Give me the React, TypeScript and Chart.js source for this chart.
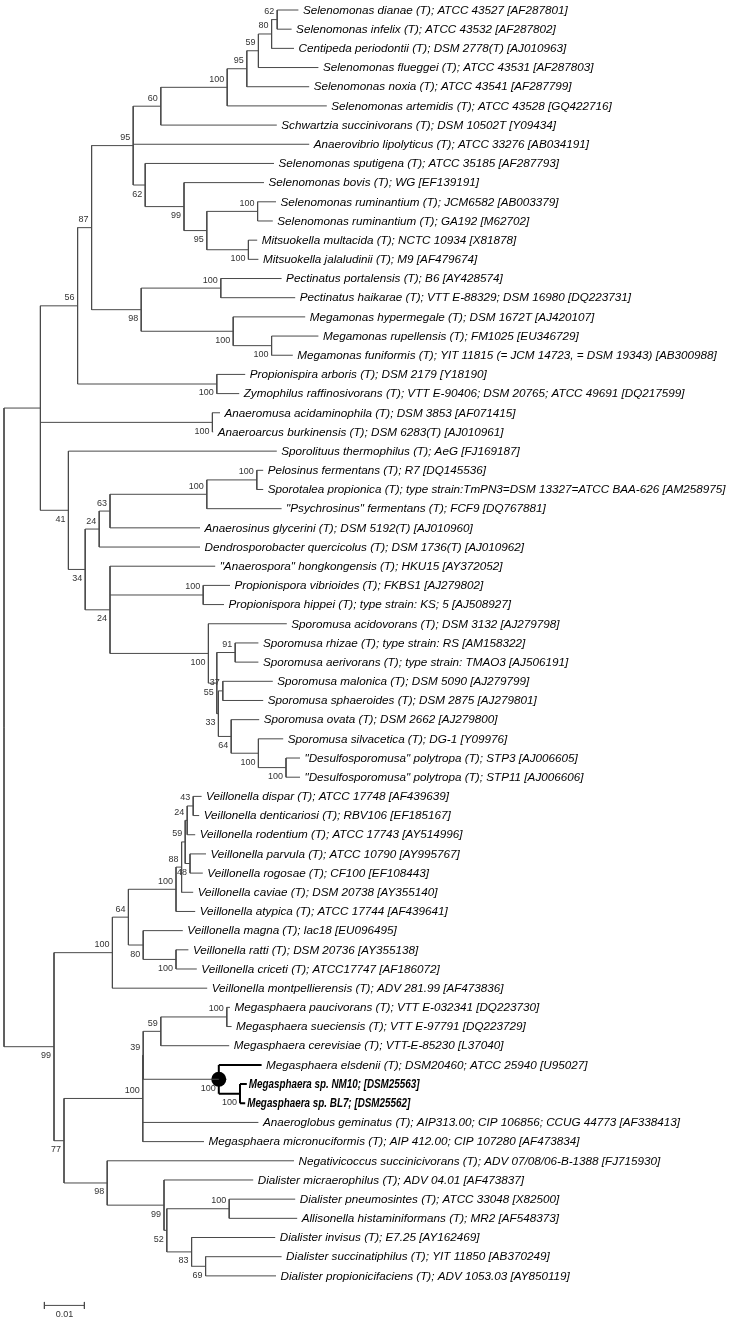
import React, { useEffect, useRef } from "react";
import { Chart, registerables } from "chart.js";
Chart.register(...registerables);

// ---------- DATA ----------
const leafNames: string[] = [
  "Selenomonas dianae (T); ATCC 43527 [AF287801]",
  "Selenomonas infelix (T); ATCC 43532 [AF287802]",
  "Centipeda periodontii (T); DSM 2778(T) [AJ010963]",
  "Selenomonas flueggei (T); ATCC 43531 [AF287803]",
  "Selenomonas noxia (T); ATCC 43541 [AF287799]",
  "Selenomonas artemidis (T); ATCC 43528 [GQ422716]",
  "Schwartzia succinivorans (T); DSM 10502T [Y09434]",
  "Anaerovibrio lipolyticus (T); ATCC 33276 [AB034191]",
  "Selenomonas sputigena (T); ATCC 35185 [AF287793]",
  "Selenomonas bovis (T); WG [EF139191]",
  "Selenomonas ruminantium (T); JCM6582 [AB003379]",
  "Selenomonas ruminantium (T); GA192 [M62702]",
  "Mitsuokella multacida (T); NCTC 10934 [X81878]",
  "Mitsuokella jalaludinii (T); M9 [AF479674]",
  "Pectinatus portalensis (T); B6 [AY428574]",
  "Pectinatus haikarae (T); VTT E-88329; DSM 16980 [DQ223731]",
  "Megamonas hypermegale (T); DSM 1672T [AJ420107]",
  "Megamonas rupellensis (T); FM1025 [EU346729]",
  "Megamonas funiformis (T); YIT 11815 (= JCM 14723, = DSM 19343) [AB300988]",
  "Propionispira arboris (T); DSM 2179 [Y18190]",
  "Zymophilus raffinosivorans (T); VTT E-90406; DSM 20765; ATCC 49691 [DQ217599]",
  "Anaeromusa acidaminophila (T); DSM 3853 [AF071415]",
  "Anaeroarcus burkinensis (T); DSM 6283(T) [AJ010961]",
  "Sporolituus thermophilus (T); AeG [FJ169187]",
  "Pelosinus fermentans (T); R7 [DQ145536]",
  "Sporotalea propionica (T); type strain:TmPN3=DSM 13327=ATCC BAA-626 [AM258975]",
  "\"Psychrosinus\" fermentans (T); FCF9 [DQ767881]",
  "Anaerosinus glycerini (T); DSM 5192(T) [AJ010960]",
  "Dendrosporobacter quercicolus (T); DSM 1736(T) [AJ010962]",
  "\"Anaerospora\" hongkongensis (T); HKU15 [AY372052]",
  "Propionispora vibrioides (T); FKBS1 [AJ279802]",
  "Propionispora hippei (T); type strain: KS; 5 [AJ508927]",
  "Sporomusa acidovorans (T); DSM 3132 [AJ279798]",
  "Sporomusa rhizae (T); type strain: RS [AM158322]",
  "Sporomusa aerivorans (T); type strain: TMAO3 [AJ506191]",
  "Sporomusa malonica (T); DSM 5090 [AJ279799]",
  "Sporomusa sphaeroides (T); DSM 2875 [AJ279801]",
  "Sporomusa ovata (T); DSM 2662 [AJ279800]",
  "Sporomusa silvacetica (T); DG-1 [Y09976]",
  "\"Desulfosporomusa\" polytropa (T); STP3 [AJ006605]",
  "\"Desulfosporomusa\" polytropa (T); STP11 [AJ006606]",
  "Veillonella dispar (T); ATCC 17748 [AF439639]",
  "Veillonella denticariosi (T); RBV106 [EF185167]",
  "Veillonella rodentium (T); ATCC 17743 [AY514996]",
  "Veillonella parvula (T); ATCC 10790 [AY995767]",
  "Veillonella rogosae (T); CF100 [EF108443]",
  "Veillonella caviae (T); DSM 20738 [AY355140]",
  "Veillonella atypica (T); ATCC 17744 [AF439641]",
  "Veillonella magna (T); lac18 [EU096495]",
  "Veillonella ratti (T); DSM 20736 [AY355138]",
  "Veillonella criceti (T); ATCC17747 [AF186072]",
  "Veillonella montpellierensis (T); ADV 281.99 [AF473836]",
  "Megasphaera paucivorans (T); VTT E-032341 [DQ223730]",
  "Megasphaera sueciensis (T); VTT E-97791 [DQ223729]",
  "Megasphaera cerevisiae (T); VTT-E-85230 [L37040]",
  "Megasphaera elsdenii (T); DSM20460; ATCC 25940 [U95027]",
  "Megasphaera sp. NM10; [DSM25563]",
  "Megasphaera sp. BL7; [DSM25562]",
  "Anaeroglobus geminatus (T); AIP313.00; CIP 106856; CCUG 44773 [AF338413]",
  "Megasphaera micronuciformis (T); AIP 412.00; CIP 107280 [AF473834]",
  "Negativicoccus succinicivorans (T); ADV 07/08/06-B-1388 [FJ715930]",
  "Dialister micraerophilus (T); ADV 04.01 [AF473837]",
  "Dialister pneumosintes (T); ATCC 33048 [X82500]",
  "Allisonella histaminiformans (T); MR2 [AF548373]",
  "Dialister invisus (T); E7.25 [AY162469]",
  "Dialister succinatiphilus (T); YIT 11850 [AB370249]",
  "Dialister propionicifaciens (T); ADV 1053.03 [AY850119]",
];

// distance from root (substitutions per site) at the tip of each leaf
const leafDepths: number[] = [
  0.0736, 0.0719, 0.0725, 0.0786, 0.0763, 0.0807, 0.0682, 0.0763, 0.0675, 0.065,
  0.068, 0.0672, 0.0633, 0.0636, 0.0694, 0.0728, 0.0753, 0.0786, 0.0722, 0.0603,
  0.0588, 0.054, 0.0523, 0.0682, 0.0648, 0.0648, 0.0694, 0.049, 0.049, 0.0528,
  0.0565, 0.055, 0.0707, 0.0636, 0.0636, 0.0672, 0.0648, 0.0638, 0.0698, 0.074,
  0.074, 0.0494, 0.0488, 0.0478, 0.0505, 0.0497, 0.0473, 0.0478, 0.0447, 0.0461,
  0.0482, 0.0508, 0.0565, 0.0569, 0.0563, 0.0644, 0.0607, 0.0603, 0.0636, 0.05,
  0.0725, 0.0623, 0.0728, 0.0733, 0.0678, 0.0694, 0.068,
];

const boldLeaves: number[] = [56, 57];

// internal nodes
const nodeIds: string[] = [
  "N1", "N2", "N3", "N4", "N5", "N6", "N7", "N8", "N9", "N10",
  "N11", "N12", "N13", "N14", "N15", "N16", "N17", "N18", "N19", "N20",
  "N21", "N22", "N23", "N24", "N25", "N26", "N27", "N28", "N29", "N30",
  "N31", "N32", "N33", "N34", "N35", "N36", "N37", "N38", "N39", "N40",
  "N41", "N42", "N43", "N44", "N45", "N46", "N47", "N48", "N49", "N50",
  "N51", "N52", "N53", "N54", "N55", "N56", "N57", "N58", "N59", "N60",
  "N61", "ROOT",
];
const nodeDepths: number[] = [
  0.0683, 0.0669, 0.0636, 0.0607, 0.0558, 0.0392, 0.0323, 0.0353, 0.045, 0.0507,
  0.0634, 0.0611, 0.0542, 0.0669, 0.0573, 0.0343, 0.0219, 0.0532, 0.0184, 0.0521,
  0.0632, 0.0507, 0.0265, 0.0238, 0.0498, 0.0578, 0.0547, 0.0705, 0.0636, 0.0568,
  0.0536, 0.0532, 0.0511, 0.0265, 0.0203, 0.0161, 0.0091, 0.0473, 0.0458, 0.0465,
  0.0453, 0.0444, 0.043, 0.043, 0.0348, 0.0311, 0.0271, 0.0557, 0.0392, 0.059,
  0.0537, 0.0348, 0.0347, 0.0563, 0.0504, 0.0469, 0.0407, 0.04, 0.0258, 0.015,
  0.0125, 0.0,
];
const nodeChildren: (number | string)[][] = [
  [0, 1], ["N1", 2], ["N2", 3], ["N3", 4], ["N4", 5], ["N5", 6], ["N6", 7, "N8"], [8, "N9"], [9, "N10"], ["N11", "N12"],
  [10, 11], [12, 13], [14, 15], [17, 18], [16, "N14"], ["N13", "N15"], ["N7", "N16"], [19, 20], ["N17", "N18"], [21, 22],
  [24, 25], ["N21", 26], ["N22", 27], ["N23", 28], [30, 31], [33, 34], [35, 36], [39, 40], [38, "N28"], [37, "N29"],
  ["N27", "N30"], ["N26", "N31"], [32, "N32"], [29, "N25", "N33"], ["N24", "N34"], [23, "N35"], ["N19", "N20", "N36"], [41, 42], ["N38", 43], [44, 45],
  ["N39", "N40"], ["N41", 46], ["N42", 47], [49, 50], [48, "N44"], ["N43", "N45"], ["N46", 51], [52, 53], ["N48", 54], [56, 57],
  [55, "N50"], ["N49", "N51"], ["N52", 58, 59], [62, 63], [65, 66], [64, "N55"], ["N54", "N56"], [61, "N57"], [60, "N58"], ["N53", "N59"],
  ["N47", "N60"], ["N37", "N61"],
];
const nodeSupport: (number | null)[] = [
  62, 80, 59, 95, 100, 60, 95, 62, 99, 95,
  100, 100, 100, 100, 100, 98, 87, 100, 56, 100,
  100, 100, 63, 24, 100, 91, 37, 100, 100, 64,
  33, 55, 100, 24, 34, 41, null, 43, 24, 48,
  59, 88, 100, 100, 80, 64, 100, 100, 59, 100,
  100, 39, 100, 100, 69, 83, 52, 99, 98, 77,
  99, null,
];
// a = label above the branch, b = below
const supportSide: string[] = [
  "a", "a", "a", "a", "a", "a", "a", "b", "b", "b",
  "a", "b", "a", "b", "b", "b", "a", "b", "a", "b",
  "a", "a", "a", "a", "a", "a", "a", "b", "b", "b",
  "b", "b", "b", "b", "b", "b", "a", "a", "a", "b",
  "a", "a", "a", "b", "b", "a", "a", "a", "a", "b",
  "b", "a", "a", "a", "b", "b", "b", "b", "b", "b",
  "b", "a",
];
const boldClade = "N51";
const markedNode = "N51";

const scaleBarLength = 0.01;
const scaleBarLabel = "0.01";
const scaleBarStart = 0.0101;

// ---------- COMPONENT ----------
export default function App() {
  const ref = useRef<HTMLCanvasElement | null>(null);

  useEffect(() => {
    document.body.style.margin = "0";
    const canvas = ref.current;
    if (!canvas) return;

    const idx: Record<string, number> = {};
    nodeIds.forEach((id, i) => (idx[id] = i));
    const yOf = (c: number | string): number => {
      if (typeof c === "number") return c;
      const ch = nodeChildren[idx[c]];
      return (yOf(ch[0]) + yOf(ch[ch.length - 1])) / 2;
    };
    const dOf = (c: number | string): number =>
      typeof c === "number" ? leafDepths[c] : nodeDepths[idx[c]];

    const bold = new Set<string>();
    const markBold = (id: string) => {
      bold.add(id);
      nodeChildren[idx[id]].forEach((c) => {
        if (typeof c === "string") markBold(c);
      });
    };
    markBold(boldClade);

    const thin: any[] = [];
    const thick: any[] = [];
    nodeIds.forEach((id, i) => {
      const ch = nodeChildren[i];
      const d = nodeDepths[i];
      const target = bold.has(id) ? thick : thin;
      target.push({ x: d, y: yOf(ch[0]) }, { x: d, y: yOf(ch[ch.length - 1]) }, { x: d, y: null });
      ch.forEach((c) => {
        target.push({ x: d, y: yOf(c) }, { x: dOf(c), y: yOf(c) }, { x: d, y: null });
      });
    });

    const barRow = 67.54;
    const tick = 0.18;
    const bar = [
      { x: scaleBarStart, y: barRow }, { x: scaleBarStart + scaleBarLength, y: barRow }, { x: 0, y: null },
      { x: scaleBarStart, y: barRow - tick }, { x: scaleBarStart, y: barRow + tick }, { x: 0, y: null },
      { x: scaleBarStart + scaleBarLength, y: barRow - tick }, { x: scaleBarStart + scaleBarLength, y: barRow + tick },
    ];

    const dot = [{ x: nodeDepths[idx[markedNode]], y: yOf(markedNode) }];

    const labelPlugin = {
      id: "treeLabels",
      afterDatasetsDraw(chart: any) {
        const ctx = chart.ctx;
        const xs = chart.scales.x;
        const ys = chart.scales.y;
        ctx.save();
        ctx.fillStyle = "#000";
        ctx.textBaseline = "middle";
        ctx.textAlign = "left";
        leafNames.forEach((name, i) => {
          const py = ys.getPixelForValue(i) + 0.5;
          if (boldLeaves.includes(i)) {
            const px = xs.getPixelForValue(leafDepths[i]) + 2;
            ctx.save();
            ctx.font = "italic bold 12px 'Liberation Sans', Arial, sans-serif";
            ctx.translate(px, py);
            ctx.scale(0.82, 1);
            ctx.fillText(name, 0, 0);
            ctx.restore();
          } else {
            const px = xs.getPixelForValue(leafDepths[i]) + 4.5;
            ctx.font = "italic 11.7px 'Liberation Sans', Arial, sans-serif";
            ctx.fillText(name, px, py);
          }
        });
        ctx.font = "9px 'Liberation Sans', Arial, sans-serif";
        ctx.fillStyle = "#333";
        ctx.textAlign = "right";
        nodeIds.forEach((id, i) => {
          const s = nodeSupport[i];
          if (s === null) return;
          const px = xs.getPixelForValue(nodeDepths[i]) - 3;
          const py = ys.getPixelForValue(yOf(id)) + (supportSide[i] === "a" ? -8 : 9);
          ctx.fillText(String(s), px, py);
        });
        ctx.textAlign = "center";
        ctx.fillText(
          scaleBarLabel,
          xs.getPixelForValue(scaleBarStart + scaleBarLength / 2),
          ys.getPixelForValue(barRow) + 9
        );
        ctx.restore();
      },
    };

    const chart = new Chart(canvas, {
      type: "line",
      data: {
        datasets: [
          { data: thin, borderColor: "#4a4a4a", borderWidth: 1, pointRadius: 0, spanGaps: false, fill: false },
          { data: thick, borderColor: "#000", borderWidth: 2, pointRadius: 0, spanGaps: false, fill: false },
          { data: bar, borderColor: "#4a4a4a", borderWidth: 1, pointRadius: 0, spanGaps: false, fill: false },
          { data: dot, showLine: false, pointRadius: 7.5, pointBackgroundColor: "#000", pointBorderColor: "#000", pointBorderWidth: 0 } as any,
        ],
      },
      options: {
        animation: false,
        responsive: false,
        maintainAspectRatio: false,
        devicePixelRatio: 1,
        layout: { padding: 0, autoPadding: false },
        plugins: { legend: { display: false }, tooltip: { enabled: false } },
        events: [],
        scales: {
          x: { type: "linear", display: false, min: -0.001, max: 0.18225 },
          y: { type: "linear", display: false, reverse: true, min: -0.5214, max: 68.457 },
        },
      },
      plugins: [labelPlugin],
    });
    return () => chart.destroy();
  }, []);

  return (
    <canvas ref={ref} width={733} height={1323} style={{ display: "block", width: 733, height: 1323 }} />
  );
}
